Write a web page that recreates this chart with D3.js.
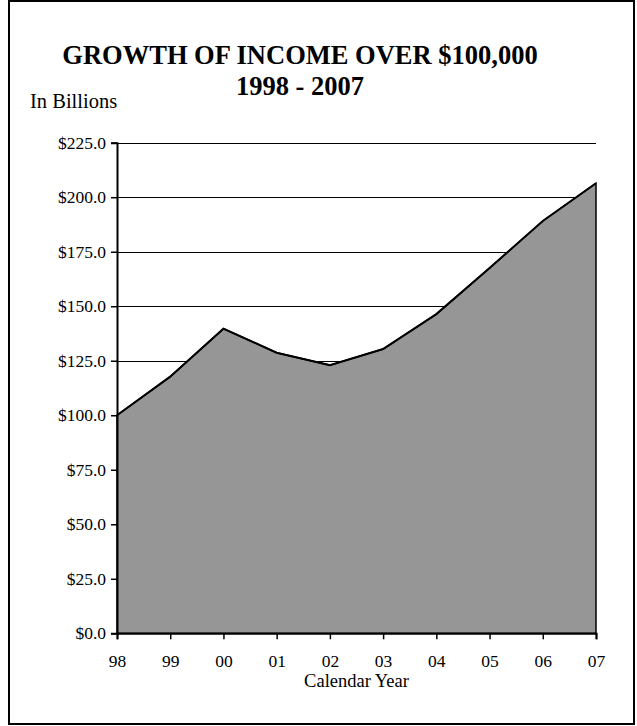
<!DOCTYPE html>
<html>
<head>
<meta charset="utf-8">
<script src="https://cdn.jsdelivr.net/npm/d3@7"></script>
<style>
  html, body { margin: 0; padding: 0; background: #fff; }
  svg { display: block; }
  text { font-family: "Liberation Serif", "Times New Roman", serif; fill: #000; }
</style>
</head>
<body>
<svg id="chart" width="637" height="726"></svg>
<script>
const categories = ["98", "99", "00", "01", "02", "03", "04", "05", "06", "07"];
const values = [100.0, 117.7, 139.7, 128.7, 123.0, 130.4, 146.4, 167.5, 189.1, 206.4];
const yTicks = [0, 25, 50, 75, 100, 125, 150, 175, 200, 225];
const titleLines = ["GROWTH OF INCOME OVER $100,000", "1998 - 2007"];
const yUnitLabel = "In Billions";
const xAxisTitle = "Calendar Year";

const svg = d3.select("#chart");
const W = 637, H = 726;
const margin = { left: 117, right: 41, top: 142.7, bottom: 92.7 };
const plotL = margin.left, plotR = W - margin.right;
const plotT = margin.top, plotB = H - margin.bottom;

// outer frame
svg.append("rect")
  .attr("x", 9).attr("y", 1).attr("width", 625).attr("height", 723)
  .attr("fill", "none").attr("stroke", "#000").attr("stroke-width", 2);

const x = d3.scalePoint().domain(categories).range([plotL, plotR]);
const y = d3.scaleLinear().domain([0, 225]).range([plotB, plotT]);

// gridlines
svg.append("g")
  .selectAll("line")
  .data(yTicks.filter(d => d > 0))
  .join("line")
  .attr("x1", plotL).attr("x2", plotR)
  .attr("y1", d => Math.round(y(d)) + 0.5).attr("y2", d => Math.round(y(d)) + 0.5)
  .attr("stroke", "#000").attr("stroke-width", 1);

// area
const area = d3.area()
  .x((d, i) => x(categories[i]))
  .y0(y(0))
  .y1(d => y(d));
svg.append("path")
  .datum(values)
  .attr("d", area)
  .attr("fill", "#969696")
  .attr("stroke", "#000")
  .attr("stroke-width", 1.5)
  .attr("stroke-linejoin", "miter");

// top line heavier
const line = d3.line()
  .x((d, i) => x(categories[i]))
  .y(d => y(d));
svg.append("path")
  .datum(values)
  .attr("d", line)
  .attr("fill", "none")
  .attr("stroke", "#000")
  .attr("stroke-width", 2);

// y axis
const yAxis = d3.axisLeft(y)
  .tickValues(yTicks)
  .tickSize(6)
  .tickPadding(5)
  .tickFormat(d => "$" + d3.format(".1f")(d));
const gy = svg.append("g")
  .attr("transform", `translate(${plotL},0)`)
  .call(yAxis);
gy.attr("font-size", null).attr("font-family", null);
gy.select(".domain").attr("stroke", "#000").attr("stroke-width", 2);
gy.selectAll(".tick line").attr("stroke", "#000").attr("stroke-width", 1.5);
gy.selectAll(".tick text")
  .style("font-family", "'Liberation Serif', 'Times New Roman', serif")
  .style("font-size", "17.5px").attr("fill", "#000");

// x axis
const xAxis = d3.axisBottom(x).tickSize(6).tickPadding(15);
const gx = svg.append("g")
  .attr("transform", `translate(0,${plotB})`)
  .call(xAxis);
gx.attr("font-size", null).attr("font-family", null);
gx.select(".domain").attr("stroke", "#000").attr("stroke-width", 2);
gx.selectAll(".tick line").attr("stroke", "#000").attr("stroke-width", 1.5);
gx.selectAll(".tick text")
  .style("font-family", "'Liberation Serif', 'Times New Roman', serif")
  .style("font-size", "17.5px").attr("fill", "#000");

// x axis title
svg.append("text")
  .attr("x", (plotL + plotR) / 2).attr("y", 687)
  .attr("text-anchor", "middle")
  .attr("font-size", 18.5)
  .text(xAxisTitle);

// titles
svg.append("text")
  .attr("x", 300).attr("y", 63.5)
  .attr("text-anchor", "middle")
  .attr("font-size", 26.5).attr("font-weight", "bold")
  .text(titleLines[0]);
svg.append("text")
  .attr("x", 300).attr("y", 95)
  .attr("text-anchor", "middle")
  .attr("font-size", 26.5).attr("font-weight", "bold")
  .text(titleLines[1]);

svg.append("text")
  .attr("x", 30).attr("y", 107.5)
  .attr("font-size", 20.5)
  .text(yUnitLabel);
</script>
</body>
</html>
